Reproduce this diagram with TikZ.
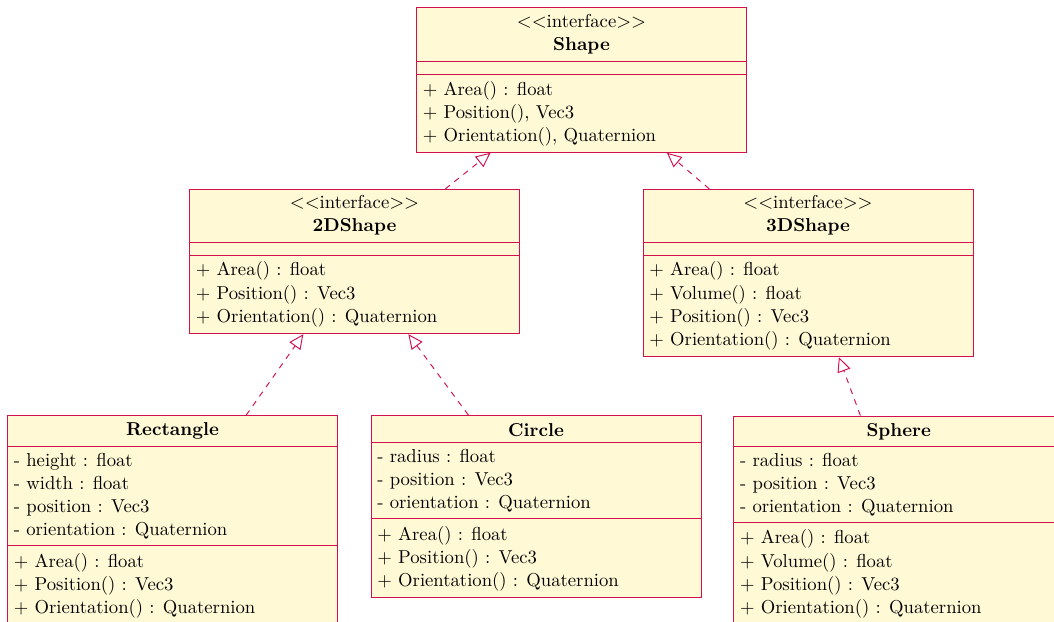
\documentclass[tikz,border=0pt]{standalone}
\usetikzlibrary{fit,arrows.meta}

\definecolor{umlborder}{RGB}{210,16,78}
\definecolor{umlfill}{RGB}{255,249,214}

\newcommand{\umltext}{\fontsize{9.73pt}{12pt}\selectfont}

\tikzset{
  classbox/.style={draw=umlborder, fill=umlfill, line width=0.5pt, inner sep=0pt, rectangle},
  sepline/.style={draw=umlborder, line width=0.5pt},
  member/.style={anchor=base west, inner sep=0pt, font=\umltext},
  cname/.style={anchor=base, inner sep=0pt, font=\umltext\bfseries},
  stereo/.style={anchor=base, inner sep=0pt, font=\umltext},
  realize/.style={draw=umlborder, line width=0.5pt, dashed,
    -{Triangle[open, length=7.6pt, width=7pt, line width=0.5pt]}}
}

\begin{document}
\begin{tikzpicture}[x=0.5208pt, y=-0.5208pt]
\useasboundingbox (0,0) rectangle (1054,621);
\clip (0,0) rectangle (1054,621);

% ---------- interface Shape ----------
\node[classbox, fit={(416.5,7.5) (746.5,152.3)}] (shape) {};
\draw[sepline] (shape.west |- 0,61) -- (shape.east |- 0,61);
\draw[sepline] (shape.west |- 0,74) -- (shape.east |- 0,74);
\node[stereo] (shapeS) at (581.5,27.3) {$<<$interface$>>$};
\node[cname]  (shapeN) at (581.5,50.7) {Shape};
\node[member] (shapeO1) at (422.5,95)    {+ Area() : float};
\node[member] (shapeO2) at (422.5,118.3) {+ Position(), Vec3};
\node[member] (shapeO3) at (422.5,141.6) {+ Orientation(), Quaternion};

% ---------- interface 2DShape ----------
\node[classbox, fit={(189.5,189.3) (519.5,333.7)}] (twod) {};
\draw[sepline] (twod.west |- 0,242) -- (twod.east |- 0,242);
\draw[sepline] (twod.west |- 0,255.3) -- (twod.east |- 0,255.3);
\node[stereo] (twodS) at (354.5,208.3) {$<<$interface$>>$};
\node[cname]  (twodN) at (354.5,231.7) {2DShape};
\node[member] (twodO1) at (195.5,275.7) {+ Area() : float};
\node[member] (twodO2) at (195.5,299)   {+ Position() : Vec3};
\node[member] (twodO3) at (195.5,322.3) {+ Orientation() : Quaternion};

% ---------- interface 3DShape ----------
\node[classbox, fit={(643,189.3) (973,356.7)}] (threed) {};
\draw[sepline] (threed.west |- 0,242) -- (threed.east |- 0,242);
\draw[sepline] (threed.west |- 0,255.3) -- (threed.east |- 0,255.3);
\node[stereo] (threedS) at (808,208.3) {$<<$interface$>>$};
\node[cname]  (threedN) at (808,231.7) {3DShape};
\node[member] (threedO1) at (649,275.7) {+ Area() : float};
\node[member] (threedO2) at (649,299)   {+ Volume() : float};
\node[member] (threedO3) at (649,322.3) {+ Position() : Vec3};
\node[member] (threedO4) at (649,345.6) {+ Orientation() : Quaternion};

% ---------- class Rectangle ----------
\node[classbox, fit={(7.5,415.7) (337.5,624)}] (rect) {};
\draw[sepline] (rect.west |- 0,446) -- (rect.east |- 0,446);
\draw[sepline] (rect.west |- 0,545.3) -- (rect.east |- 0,545.3);
\node[cname]  (rectN) at (172.5,435.7) {Rectangle};
\node[member] (rectA1) at (13.5,466)   {- height : float};
\node[member] (rectA2) at (13.5,489.3) {- width : float};
\node[member] (rectA3) at (13.5,512.6) {- position : Vec3};
\node[member] (rectA4) at (13.5,535.9) {- orientation : Quaternion};
\node[member] (rectO1) at (13.5,567)   {+ Area() : float};
\node[member] (rectO2) at (13.5,590.3) {+ Position() : Vec3};
\node[member] (rectO3) at (13.5,613.6) {+ Orientation() : Quaternion};

% ---------- class Circle ----------
\node[classbox, fit={(371,415.5) (701,597)}] (circ) {};
\draw[sepline] (circ.west |- 0,442.3) -- (circ.east |- 0,442.3);
\draw[sepline] (circ.west |- 0,518.3) -- (circ.east |- 0,518.3);
\node[cname]  (circN) at (536,436) {Circle};
\node[member] (circA1) at (377,462.3) {- radius : float};
\node[member] (circA2) at (377,485.6) {- position : Vec3};
\node[member] (circA3) at (377,508.9) {- orientation : Quaternion};
\node[member] (circO1) at (377,540)   {+ Area() : float};
\node[member] (circO2) at (377,563.3) {+ Position() : Vec3};
\node[member] (circO3) at (377,586.6) {+ Orientation() : Quaternion};

% ---------- class Sphere ----------
\node[classbox, fit={(733.7,416) (1063.7,624)}] (sph) {};
\draw[sepline] (sph.west |- 0,446) -- (sph.east |- 0,446);
\draw[sepline] (sph.west |- 0,522) -- (sph.east |- 0,522);
\node[cname]  (sphN) at (898.7,436) {Sphere};
\node[member] (sphA1) at (739.7,466)   {- radius : float};
\node[member] (sphA2) at (739.7,489.3) {- position : Vec3};
\node[member] (sphA3) at (739.7,512.6) {- orientation : Quaternion};
\node[member] (sphO1) at (739.7,543.7) {+ Area() : float};
\node[member] (sphO2) at (739.7,567)   {+ Volume() : float};
\node[member] (sphO3) at (739.7,590.3) {+ Position() : Vec3};
\node[member] (sphO4) at (739.7,613.6) {+ Orientation() : Quaternion};

% ---------- realizations ----------
\draw[realize] (twod)   -- (shape);
\draw[realize] (threed) -- (shape);
\draw[realize] (rect)   -- (twod);
\draw[realize] (circ)   -- (twod);
\draw[realize] (sph)    -- (threed);
\end{tikzpicture}
\end{document}
